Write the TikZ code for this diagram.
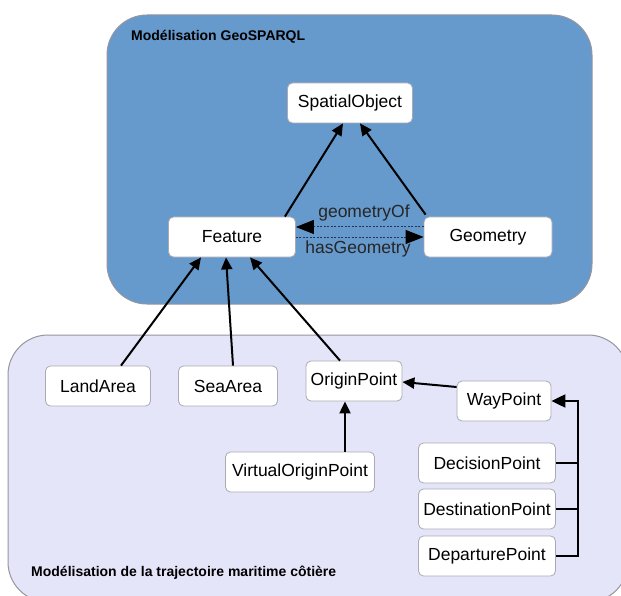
\documentclass[tikz,border=0pt]{standalone}
\usepackage{fontspec}
\setmainfont{Liberation Sans}
\usetikzlibrary{arrows.meta}
\definecolor{topfill}{RGB}{102,153,204}
\definecolor{botfill}{RGB}{229,229,250}
\definecolor{frame}{RGB}{150,150,160}
\definecolor{nodeframe}{RGB}{170,170,180}
\definecolor{dashcol}{RGB}{40,50,80}
\tikzset{
  cls/.style={draw=nodeframe, line width=0.8pt, fill=white, rounded corners=5pt, minimum height=40pt, inner sep=2pt, font=\fontsize{17.5}{19}\selectfont},
  container/.style={draw=frame, line width=1pt, rounded corners=40pt},
  isa/.style={line width=2pt, -{Triangle[length=12pt,width=11pt]}},
  rel/.style={line width=1pt, dash pattern=on 2pt off 1.5pt, color=dashcol, -{Triangle[length=18pt,width=14pt,color=black,fill=black]}},
  rellabel/.style={font=\fontsize{17.5}{19}\selectfont, text=black!85, inner sep=0pt},
  title/.style={font=\bfseries\fontsize{14}{16}\selectfont, anchor=west, inner sep=0pt}
}
\begin{document}
\begin{tikzpicture}[x=1pt,y=-1pt]
\useasboundingbox (0,0) rectangle (621,596);
\fill[white] (0,0) rectangle (621,596);
% containers
\draw[container, fill=topfill] (107,15) rectangle (592,304);
\draw[container, fill=botfill] (8,335) rectangle (628,602);
\node[title] (t1) at (131,37) {Modélisation GeoSPARQL};
\node[title] (t2) at (31,573) {Modélisation de la trajectoire maritime côtière};
% nodes
\node[cls, minimum width=125pt] (so) at (350,103) {SpatialObject};
\node[cls, minimum width=127pt] (fe) at (232,237) {Feature};
\node[cls, minimum width=128pt] (ge) at (488,237) {Geometry};
\node[cls, minimum width=105pt] (la) at (98,386) {LandArea};
\node[cls, minimum width=99pt] (sa) at (228,386) {SeaArea};
\node[cls, minimum width=96pt] (op) at (354,381) {OriginPoint};
\node[cls, minimum width=94pt] (wp) at (504,401) {WayPoint};
\node[cls, minimum width=149pt] (vo) at (300,472) {VirtualOriginPoint};
\node[cls, minimum width=137pt] (dc) at (487,463) {DecisionPoint};
\node[cls, minimum width=137pt] (ds) at (487,509) {DestinationPoint};
\node[cls, minimum width=137pt] (dp) at (487,556) {DeparturePoint};
% generalisations
\draw[isa] (fe.north east) ++(-11,0) -- ([xshift=-7pt]so.south);
\draw[isa] (ge.north west) ++(2,-2) -- ([xshift=10pt]so.south);
\draw[isa] (la.north) ++(23,0) -- ([xshift=-31pt]fe.south);
\draw[isa] (sa.north) ++(5,0) -- ([xshift=-6pt]fe.south);
\draw[isa] (op.north) ++(-14,0) -- ([xshift=18pt]fe.south);
\draw[isa] (wp.west) ++(0,-14) -- ([yshift=-1pt]op.east);
\draw[isa] (vo.north) ++(45,0) -- ([xshift=-9pt]op.south);
% WayPoint subclasses
\coordinate (bus) at (578,401);
\draw[line width=2pt] (dc.east) -- (dc.east -| bus);
\draw[line width=2pt] (ds.east) -- (ds.east -| bus);
\draw[line width=2pt, -{Triangle[length=14pt,width=13pt]}] (dp.east) -- (dp.east -| bus) -- (bus) -- (wp.east);
% relations
\draw[rel] ([yshift=10pt]ge.west) -- ([yshift=10pt]fe.east);
\draw[rel] (fe.east) -- (ge.west);
\node[rellabel] (lgo) at (364,213) {geometryOf};
\node[rellabel] (lhg) at (358,249) {hasGeometry};
\end{tikzpicture}
\end{document}
